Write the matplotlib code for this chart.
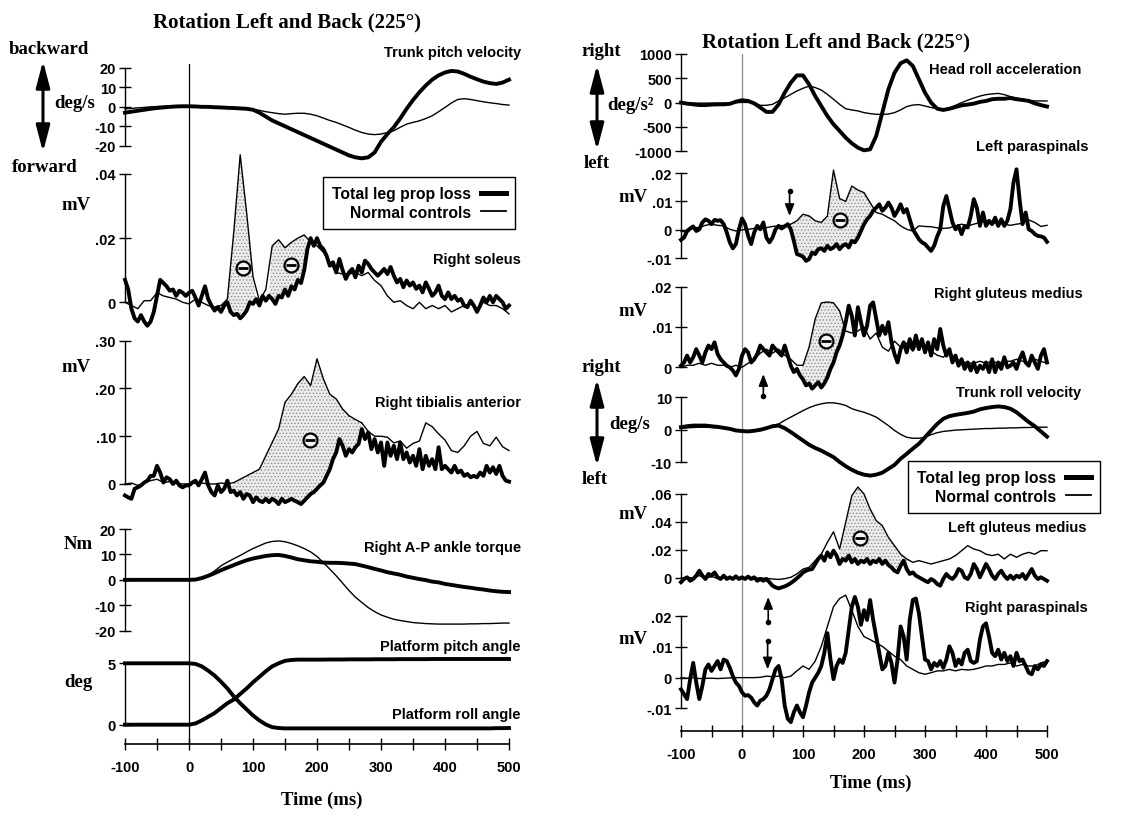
import numpy as np
import matplotlib
matplotlib.use("Agg")
import matplotlib.pyplot as plt
from matplotlib.lines import Line2D

plt.rcParams["font.family"] = ["Liberation Sans", "DejaVu Sans"]
plt.rcParams["font.weight"] = "bold"
plt.rcParams["hatch.linewidth"] = 0.6
plt.rcParams["hatch.color"] = "#8c8c8c"

W, H = 1123, 820
SERIF = ["Liberation Serif", "DejaVu Serif"]

# time bases (ms)
t10 = np.arange(-100, 501, 10)
t5 = np.arange(-100, 501, 5)

# ---------------- left column ----------------
# trunk pitch velocity (deg/s), 10 ms
pitch_vel_pt = [-3, -2.5, -2, -1.5, -1, -0.6, -0.3, 0, 0.2, 0.3,
                0.3, 0.2, 0, 0, -0.2, -0.3, -0.5, -0.6, -0.8, -1,
                -1.5, -3, -5, -7, -8.5, -10, -11.5, -13, -14.5, -16,
                -17.5, -19, -20.5, -22, -23.5, -25, -26, -26.5, -26, -23.5,
                -18, -14, -10.5, -6, -1, 3.5, 7.5, 11, 14, 16.2,
                17.7, 18.5, 18.2, 17, 15.5, 14.2, 13, 12.2, 11.8, 12.5, 14]
pitch_vel_nc = [-1, -0.8, -0.5, -0.3, 0, 0.2, 0.3, 0.4, 0.4, 0.4,
                0.3, 0.2, 0, 0, -0.2, -0.3, -0.5, -0.6, -0.8, -1,
                -1.2, -1.8, -2.5, -3, -3.5, -3.8, -3.5, -3.3, -3.3, -3.8,
                -4.6, -5.8, -7, -8, -9.3, -10.6, -12, -13.2, -14, -14.3,
                -14, -13.2, -12.3, -10.5, -8.9, -8, -7.2, -6, -4.6, -2.5,
                -0.3, 2, 3.8, 4.2, 3.8, 3.2, 2.6, 2.1, 1.7, 1.2, 0.9]

# right soleus EMG (0.001 mV units); patients 5 ms, controls 10 ms
soleus_pt = [7, 4, -2, -5, -6, -4, -6, -7.3, -6, -3, 2, 7, 6, 5, 3.6, 4, 2, 3.6, 3, 2,
             3, 3.6, 1.5, -1, 2, 5, 1, -1, -2.6, -1.5, -3, -1, 0, -3, -4, -3.6, -5, -4, -2.6, 0,
             -0.5, 1, -1, 2, 0.5, 2, 1, -0.5, 2, 1.5, 4, 2, 5, 4, 7, 6, 10, 16.6, 20, 17.6,
             20, 17.6, 16.6, 14.5, 11.4, 12.5, 9.3, 13.5, 10, 7.3, 9.3, 10.4, 7.8, 11.4, 9.3, 13, 12, 10.4, 9.3, 8.3,
             9.3, 10.4, 8.8, 11, 8.3, 6.2, 7.3, 4.7, 6.8, 5.2, 6.2, 4.2, 5.2, 3.1, 6.2, 4.2, 2, 3.1, 5.2, 2,
             1, 3.1, 1, 2, 0.5, 1, -1, -1.5, 0.5, -1, -3, -1, 1.5, 0, 2, 0, 2, 1, 0, -2, -1]
soleus_nc = [0, -1, -2, 0.5, 0.5, 3, 2, 1.5, 1, 0,
             -0.5, 1, 0, -1, -1.5, -1, 1, 22, 46, 28,
             8, 0.5, 4, 17.6, 19.5, 17, 18.7, 20, 21, 18.7,
             17.6, 15.6, 12.5, 9.3, 8.8, 8.8, 9.3, 8.3, 9.3, 6.8,
             5.2, 2, 0, 0.5, -1, -2, 0, -2, -1, -2,
             -1, -3, -2, -1, -0.5, -2, 0, -1, -1, -2, -3.6]

# right tibialis anterior EMG (0.001 mV units)
tibialis_pt = [-24, -28, -31, -10, -7, -3, 3, 7, 17, 17, 38, 24, 3, 14, 10, 0, 7, -3, -7, -3,
               -3, 3, 7, -3, 10, 24, -3, -17, -24, -3, -17, -10, 7, -17, -14, -24, -17, -31, -21, -24,
               -38, -28, -35, -38, -31, -38, -31, -35, -42, -31, -38, -35, -31, -35, -38, -42, -35, -28, -21, -17,
               -10, -3, 3, 17, 31, 52, 66, 94, 80, 59, 73, 66, 77, 84, 115, 94, 108, 73, 94, 66,
               87, 38, 87, 59, 80, 52, 87, 52, 66, 45, 59, 38, 73, 31, 59, 38, 52, 31, 77, 31,
               38, 31, 24, 38, 24, 28, 17, 21, 14, 17, 14, 24, 17, 38, 24, 35, 21, 38, 17, 7, 5]
tibialis_nc = [0, 2, -3, 3, 7, 10, 3, 5, 2, 0,
               0, 2, 2, 0, 0, 2, 0, 3, 10, 17,
               24, 31, 59, 87, 115, 171, 188, 210, 225, 206,
               262, 220, 188, 178, 157, 143, 135, 128, 110, 100,
               100, 98, 86, 90, 75, 85, 90, 128, 120, 105,
               92, 70, 66, 80, 100, 110, 85, 80, 98, 78, 70]

# right A-P ankle torque (Nm)
torque_pt = [0, 0, 0, 0, 0, 0, 0, 0, 0, 0,
             0, 0.1, 0.7, 1.6, 2.6, 3.8, 4.8, 5.8, 6.8, 7.7,
             8.4, 8.9, 9.4, 9.7, 9.8, 9.4, 8.8, 8.1, 7.7, 7.3,
             7.1, 6.8, 6.7, 6.7, 6.6, 6.4, 6.2, 5.6, 5, 4.3,
             3.7, 3, 2.5, 2, 1.3, 0.8, 0.3, -0.1, -0.7, -1,
             -1.6, -2, -2.4, -2.8, -3.1, -3.5, -3.8, -4.2, -4.5, -4.7, -4.8]
torque_nc = [0, 0, 0, 0, 0, 0, 0, 0, 0, 0,
             0, 0.1, 0.6, 1.8, 3.5, 5.5, 7, 8.3, 9.6, 11,
             12.3, 13.4, 14.5, 15.1, 15.3, 15, 14.3, 13.4, 12.3, 11,
             9.2, 6.8, 4.2, 1.6, -1.3, -4.2, -6.8, -8.9, -10.9, -12.5,
             -13.8, -14.7, -15.5, -16, -16.4, -16.8, -17, -17.2, -17.3, -17.4,
             -17.4, -17.4, -17.4, -17.4, -17.3, -17.3, -17.2, -17.2, -17.1, -17, -17]

# platform angles (deg)
platform_pitch = [0, 0, 0, 0, 0, 0, 0, 0, 0, 0,
                  0, 0.1, 0.35, 0.65, 0.95, 1.35, 1.75, 2.05, 2.5, 2.95,
                  3.45, 3.9, 4.35, 4.75, 5.0, 5.2, 5.27, 5.3, 5.3, 5.3,
                  5.3, 5.3, 5.31, 5.31, 5.31, 5.32, 5.32, 5.32, 5.32, 5.33,
                  5.33, 5.33, 5.33, 5.34, 5.34, 5.34, 5.34, 5.34, 5.35, 5.35,
                  5.35, 5.35, 5.35, 5.35, 5.35, 5.35, 5.35, 5.35, 5.35, 5.35, 5.35]
platform_roll = [5, 5, 5, 5, 5, 5, 5, 5, 5, 5,
                 5, 4.95, 4.75, 4.4, 4.0, 3.5, 2.95, 2.3, 1.75, 1.25,
                 0.75, 0.35, 0.02, -0.2, -0.27, -0.3, -0.3, -0.3, -0.3, -0.3,
                 -0.3, -0.3, -0.3, -0.3, -0.3, -0.3, -0.3, -0.3, -0.3, -0.3,
                 -0.3, -0.3, -0.3, -0.3, -0.3, -0.3, -0.3, -0.3, -0.3, -0.3,
                 -0.3, -0.3, -0.3, -0.3, -0.3, -0.3, -0.3, -0.3, -0.28, -0.28, -0.27]

# ---------------- right column ----------------
# head roll acceleration (deg/s^2)
head_acc_pt = [0, -20, -35, -50, -50, -40, -35, -35, -25, 20,
               50, 35, -15, -100, -190, -190, -35, 205, 410, 560,
               560, 375, 135, -70, -275, -445, -580, -720, -835, -925,
               -980, -960, -685, -205, 275, 615, 810, 870, 755, 480,
               205, 0, -125, -150, -125, -90, -55, -40, -20, 15,
               35, 70, 80, 80, 95, 70, 55, 35, -15, -50, -80]
head_acc_nc = [-5, -10, -10, -10, -10, -10, -10, -10, -5, 0,
               5, 5, 0, -55, -55, -35, 35, 100, 170, 240,
               295, 340, 310, 260, 170, 70, -35, -125, -150, -170,
               -205, -225, -240, -240, -235, -205, -150, -80, -50, -40,
               -70, -100, -125, -140, -110, -55, 0, 50, 95, 135,
               165, 180, 190, 165, 125, 95, 70, 50, 35, 35, 35]

# left paraspinals EMG (0.001 mV units)
lpara_pt = [-3.5, -2.7, -0.4, 0.5, 1.2, -0.4, 0.2, 2.6, 3.7, 3.2, 2, 3.5, 3.2, 3.4, 2, -0.9, -4.4, -6.5, -5, 0.2,
            4, 2, -2.1, -5, -0.9, 1.4, 0.2, 2.6, -2.7, -4.4, -2.7, 0.2, 1.4, 0.5, 1.2, 2, 0.2, -3.9, -8.5, -8.9,
            -9.4, -10.9, -10.3, -8, -8.5, -6.8, -6.5, -7.4, -5.6, -6.8, -6.2, -5, -6.8, -5.6, -5, -6.2, -3.9, -4.4, -2.7, -0.4,
            2, 3.7, 4.9, 6.7, 7.8, 9, 6.7, 7.8, 9.6, 7.8, 4.9, 6.7, 9, 6.1, 7.3, 3.7, 0.2, -1.5, -3.3, -4.4,
            -5, -6.2, -7.4, -5.6, -2.3, 0.2, 8.4, 11.9, 7.3, 2.6, 0.2, 1.4, -1.5, 1.4, 0.8, 4.9, 10.8, 7.8, 1.4, 6.1,
            1.4, 3.2, 2, 4.3, 1.4, 3.7, 1.4, 3.2, 7.3, 16.6, 21.3, 10.8, 2, 6.1, 0.2, -0.4, -1.5, -2.1, -2.3, -2.7, -4.2]
lpara_nc = [-0.4, -0.9, 0.8, 0.8, 1.6, 2, 1.6, 1.4, 0.2, -0.4,
            0, 0.2, 0.5, 0.5, 0.8, 1.2, 1.4, 1.6, 2, 3.2,
            5.5, 4.9, 3.2, 2.6, 4.9, 21, 11, 10, 15.4, 14,
            13.1, 9.6, 6.1, 5.5, 4.3, 3.2, 1.4, 0.2, -0.4, 1.4,
            1.2, 1.1, 0.7, 0.5, 0.7, 1.4, 2, 1.4, 2, 2.6,
            3.2, 2.6, 2.3, 2, 1.6, 2, 2.3, 3.5, 2.6, 1.2, 1.6]

# right gluteus medius EMG (0.001 mV units)
rglut_pt = [0.4, 1.2, 2.9, 1.2, 2.5, 4.5, 2.9, 1.2, 3.7, 5.4, 4.5, 6.2, 3.3, 2, 1.2, 0.4, 0, -0.8, -2, -0.4,
            2.9, 4.5, 3.7, 1.2, 2, 3.3, 5.4, 4.5, 3.7, 2.9, 5.4, 4.5, 3.7, 2.9, 5.4, 2.9, 0.4, -1.2, -0.4, -2,
            -3, -4.5, -4, -5.3, -4.5, -3.7, -5, -4, -2.5, -0.4, 1.2, 3.7, 5.4, 7.9, 11.2, 15.3, 12.8, 7.9, 14.9, 11.2,
            7.9, 10.3, 15.3, 16.1, 12, 7.9, 10.3, 8.3, 11.2, 6.2, 3.3, 1.2, 4.5, 6.2, 3.7, 7, 4.5, 7.9, 4.5, 7,
            3.7, 6.2, 2.9, 7, 4.5, 9.5, 5.4, 2.9, 4.5, 1.2, 2.9, 0.4, 2, -0.4, 1.2, -0.8, 1.2, -1.2, 0.4, -0.4,
            1.2, -1.2, 2, -1.2, 1.2, -0.4, 2.5, 0, 0.4, 1.2, -0.4, 2, 3.7, 1.2, 0.4, 2.9, 1.2, -0.4, 2.9, 4.5, 1.2]
rglut_nc = [0, 0.5, 0.5, 1, 0.5, 1, 0.5, 0.5, 0, 0.5,
            0, 1, 2, 3.5, 4.5, 3.5, 4.5, 3, 2, 0.5,
            0.5, 5, 12, 16, 16.2, 16, 14, 9, 8.5, 9,
            10, 7, 8.5, 5, 4, 6.5, 5, 6, 4, 6.5,
            5, 4, 3, 2.5, 4, 2, 1.5, 1, 1, 1.5,
            1, 1.5, 1, 1.5, 1.5, 2, 1.5, 1, 2, 1.5, 1]

# trunk roll velocity (deg/s)
roll_vel_pt = [0.8, 1.1, 1.3, 1.3, 1.3, 1.1, 0.9, 0.6, 0.3, -0.2,
               -0.4, -0.5, -0.3, 0, 0.5, 1.1, 1.3, 0.5, -0.7, -2,
               -3.3, -4.6, -5.6, -6.4, -7.4, -8.4, -9.9, -11.2, -12.3, -13.2,
               -13.8, -14.1, -13.8, -13.2, -12, -10.8, -8.9, -7.4, -5.8, -4.3,
               -2.3, -0.2, 1.8, 3.4, 4.2, 4.6, 4.9, 5.2, 5.6, 6.3,
               6.7, 7, 7.2, 7, 6.5, 5.4, 3.9, 2.4, 1.1, -0.5, -2.1]
roll_vel_nc = [0.5, 0.6, 0.7, 0.8, 0.8, 0.7, 0.6, 0.5, 0.3, 0,
               -0.3, -0.5, -0.3, 0, 0.6, 1.3, 1.8, 2.9, 3.9, 4.9,
               5.9, 6.8, 7.5, 8, 8.3, 8.3, 8, 7.5, 6.5, 5.9,
               5.4, 4.7, 3.9, 2.6, 1.3, -0.2, -1.4, -2.3, -2.6, -2.6,
               -2.3, -1.5, -0.9, -0.5, -0.3, -0.1, 0, 0.1, 0.2, 0.3,
               0.4, 0.4, 0.5, 0.5, 0.6, 0.6, 0.7, 0.7, 0.8, 0.8, 0.8]

# left gluteus medius EMG (0.001 mV units)
lglut_pt = [-3, -0.7, 0.5, -2, -0.7, 1.7, 5.2, 1.7, -0.7, 2.9, 1.7, 4, 0.5, -0.7, 1.7, -0.7, 0.5, -0.7, 1.2, -0.7,
            0.5, -0.7, 1, -0.7, 0.5, -2, -0.7, -2, -0.7, -3, -5.5, -6.7, -7.4, -6.7, -6, -5, -3.6, -2, -0.2, 1.7,
            4, 5.2, 6, 6.4, 10, 13.6, 16, 12.4, 18.3, 14.8, 19.5, 16, 10, 13.6, 12.4, 16, 11.2, 13.6, 10, 12.4,
            11.2, 13.6, 10, 12.4, 11.2, 13.6, 10, 12.4, 9.3, 7.6, 5.2, 4, 8.8, 12.4, 6.4, 2.9, 4, 1.7, 0.5, -0.7,
            -2, -3, -0.7, -2, -4.3, -5.5, -0.7, 2.9, 0.5, -0.7, 1.7, 6.4, 5.2, 0.5, -0.7, 2.9, 10, 6.4, 0.5, 5.2,
            10, 6.4, 1.7, -0.7, 2.9, 5.2, 1.7, -0.7, 1.7, -0.7, 1.7, 0.5, 2.9, -0.7, 2.9, 6.4, 1.7, -0.7, 0.5, -0.7, -2]
lglut_nc = [-0.2, 0.5, 0, 1.7, -0.2, 1, -0.2, 0.5, 0, 0.2,
            0, 0.2, 0, 0, -0.2, -0.7, -1, -0.5, 0.5, 2.9,
            6.4, 7.6, 12.4, 17, 25.5, 33, 20.7, 39.8, 58.8, 65,
            60, 49.3, 41, 37.4, 29, 23.1, 17, 13.6, 11.2, 12.4,
            11.2, 10, 11.2, 12.4, 13.6, 16, 19.5, 23.1, 20.7, 19.5,
            17, 16, 17, 13.6, 17, 14.8, 17, 18.3, 17, 19.5, 19.5]

# right paraspinals EMG (0.001 mV units)
rpara_pt = [-3.8, -5.4, -7, -0.5, 4.8, -1.6, -7, -2.7, 2.7, 4.3, 2.2, 3.8, 5.4, 2.7, 5.9, 5.4, 3.2, 0.5, -1.6, -2.7,
            -4.8, -5.9, -5.7, -6.5, -8.1, -9.1, -7.5, -7, -5.9, -3.8, -0.5, 2.7, 3.8, -0.5, -9.1, -13.4, -14.5, -11.3, -9.1, -11.3,
            -12.9, -9.1, -4.8, -1.6, 0, 1.6, 3.8, 8.1, 14.5, 5.9, -0.5, 3.8, 5.9, 4.8, 8.1, 15.6, 23.1, 26.3, 23.1, 17.2,
            22, 18.8, 25.3, 18.8, 13.4, 8.1, 2.7, 3.8, 8.1, 4.8, -1.6, 5.9, 16.7, 13.4, 5.9, 18.8, 25.3, 25.8, 21, 13.4,
            5.9, 5.4, 2.7, 4.8, 3.8, 5.4, 3.2, 5.9, 10.2, 8.1, 3.8, 5.9, 4.3, 8.1, 9.1, 5.4, 4.8, 5.4, 12.4, 16.7,
            17.7, 13.4, 8.1, 7, 9.1, 5.9, 8.1, 5.4, 7, 3.8, 8.1, 5.4, 5.9, 3.8, 1.6, 1.1, 3.8, 2.7, 4.3, 3.8, 5.4]
rpara_nc = [0, -0.2, 0, -0.3, -0.2, -0.2, -0.3, -0.2, -0.1, 0,
            0, 0, 0, 0.1, 0.5, 0.3, 0.5, 0, 0.5, 2.2,
            3.8, 2.7, 5.4, 10.2, 16.7, 23.1, 25.8, 26.9, 22, 16.7,
            13.4, 12.4, 11.3, 10.2, 8.6, 7, 5.9, 3.8, 2.7, 1.6,
            1.1, 1.6, 2.2, 2.2, 2.7, 2.2, 2.7, 2.5, 2.7, 3.2,
            3.8, 3.8, 4.3, 4.3, 4.8, 3.8, 4.3, 3.8, 3.8, 4.8, 5.4]

LEGEND_LABELS = ["Total leg prop loss", "Normal controls"]
TIME_TICKS = [-100, 0, 100, 200, 300, 400, 500]

# ---------------- figure ----------------
fig = plt.figure(figsize=(W / 100, H / 100), dpi=100)
LEFT = (125, 509)
RIGHT = (681, 1047)
LW_PT, LW_NC = 2.8, 1.0


def panel(col, hi, y_hi, lo, y_lo, top, bot, ticks, labels):
    x0, x1 = col
    ax = fig.add_axes([x0 / W, 1 - bot / H, (x1 - x0) / W, (bot - top) / H])
    k = (hi - lo) / (y_lo - y_hi)
    ax.set_ylim(lo - (bot - y_lo) * k, hi + (y_hi - top) * k)
    ax.set_xlim(-100, 500)
    ax.patch.set_visible(False)
    for s in ("top", "right", "bottom"):
        ax.spines[s].set_visible(False)
    ax.spines["left"].set_bounds(lo, hi)
    ax.spines["left"].set_linewidth(1.0)
    ax.set_xticks([])
    ax.set_yticks(ticks)
    ax.set_yticklabels(labels, fontsize=10.5, fontweight="bold")
    ax.tick_params(axis="y", direction="inout", length=9, width=1, pad=2)
    return ax


def traces(ax, tp, yp, tn, yn):
    ax.plot(tp, yp, color="black", lw=LW_PT, clip_on=False, zorder=3,
            solid_joinstyle="round")
    ax.plot(tn, yn, color="black", lw=LW_NC, clip_on=False, zorder=4)


def shade(ax, a, b, tn, yn, tp, yp):
    tn, yn, tp, yp = map(np.asarray, (tn, yn, tp, yp))
    m1 = (tn >= a) & (tn <= b)
    m2 = (tp >= a) & (tp <= b)
    xs = np.concatenate([tn[m1], tp[m2][::-1]])
    ys = np.concatenate([yn[m1], yp[m2][::-1]])
    ax.fill(xs, ys, facecolor="#ececec", hatch=".....", edgecolor="#8c8c8c",
            linewidth=0, zorder=1, clip_on=False)


def minus(ax, t, v):
    ax.plot([t], [v], "o", ms=10, mfc="#f4f4f4", mec="black", mew=1.6,
            zorder=5, clip_on=False)
    ax.plot([t], [v], "_", ms=6.5, mew=2.0, color="black", zorder=6, clip_on=False)


def small_arrow(ax, t, tail, tip):
    ax.annotate("", xy=(t, tip), xytext=(t, tail), zorder=6,
                arrowprops=dict(arrowstyle="-|>,head_length=0.7,head_width=0.28",
                                lw=1.2, color="black", shrinkA=0, shrinkB=0,
                                mutation_scale=10))
    ax.plot([t], [tail], "o", ms=3, color="black", zorder=6, clip_on=False)


def legend_box(ax, x_px, y_px):
    h_pt = Line2D([], [], color="black", lw=LW_PT + 0.8)
    h_nc = Line2D([], [], color="black", lw=LW_NC + 0.3)
    leg = ax.legend([h_pt, h_nc], LEGEND_LABELS, loc="upper left",
                    bbox_to_anchor=(x_px / W, 1 - y_px / H),
                    bbox_transform=fig.transFigure, markerfirst=False,
                    frameon=True, fancybox=False, edgecolor="black", framealpha=1,
                    handlelength=1.6, handletextpad=0.6, borderpad=0.6,
                    labelspacing=0.2, borderaxespad=0,
                    prop={"weight": "bold", "size": 11.3})
    leg.get_frame().set_linewidth(1.0)
    leg.set_zorder(10)


def time_axis(col, y_top, y_axis, line_color):
    x0, x1 = col
    ax = fig.add_axes([x0 / W, 1 - y_axis / H, (x1 - x0) / W, (y_axis - y_top) / H])
    ax.set_xlim(-100, 500)
    ax.set_ylim(0, 1)
    ax.patch.set_visible(False)
    for s in ("top", "right", "left"):
        ax.spines[s].set_visible(False)
    ax.spines["bottom"].set_linewidth(1.2)
    ax.set_yticks([])
    ax.set_xticks(TIME_TICKS)
    ax.set_xticklabels([str(v) for v in TIME_TICKS], fontsize=10.5, fontweight="bold")
    ax.set_xticks(np.arange(-50, 501, 100), minor=True)
    ax.tick_params(axis="x", which="both", direction="inout", length=9, width=1, pad=7)
    ax.axvline(0, color=line_color, lw=0.9, zorder=0)
    return ax


time_axis(LEFT, 65, 745, "black")
time_axis(RIGHT, 55, 732, "#8a8a8a")

# left column panels
ax = panel(LEFT, 20, 69, -20, 146.7, 60, 165, [-20, -10, 0, 10, 20],
           ["-20", "-10", "0", "10", "20"])
traces(ax, t10, pitch_vel_pt, t10, pitch_vel_nc)

ax = panel(LEFT, 40, 175, 0, 303.3, 150, 335, [0, 20, 40], ["0", ".02", ".04"])
shade(ax, 60, 105, t10, soleus_nc, t5, soleus_pt)
shade(ax, 125, 185, t10, soleus_nc, t5, soleus_pt)
traces(ax, t5, soleus_pt, t10, soleus_nc)
minus(ax, 84, 10.6)
minus(ax, 160, 11.6)
legend_box(ax, 323, 178)

ax = panel(LEFT, 300, 341.7, 0, 485, 335, 505, [0, 100, 200, 300],
           ["0", ".10", ".20", ".30"])
shade(ax, 65, 275, t10, tibialis_nc, t5, tibialis_pt)
traces(ax, t5, tibialis_pt, t10, tibialis_nc)
minus(ax, 189, 92)

ax = panel(LEFT, 20, 530, -20, 631.7, 520, 640, [-20, -10, 0, 10, 20],
           ["-20", "-10", "0", "10", "20"])
traces(ax, t10, torque_pt, t10, torque_nc)

ax = panel(LEFT, 5, 664.3, 0, 725.7, 650, 740, [0, 5], ["0", "5"])
ax.plot(t10, platform_pitch, color="black", lw=LW_PT, clip_on=False)
ax.plot(t10, platform_roll, color="black", lw=LW_PT, clip_on=False)

# right column panels
ax = panel(RIGHT, 1000, 55, -1000, 152.3, 45, 160, [-1000, -500, 0, 500, 1000],
           ["-1000", "-500", "0", "500", "1000"])
traces(ax, t10, head_acc_pt, t10, head_acc_nc)

ax = panel(RIGHT, 20, 174, -10, 259.3, 165, 265, [-10, 0, 10, 20],
           ["-.01", "0", ".01", ".02"])
shade(ax, 80, 215, t10, lpara_nc, t5, lpara_pt)
traces(ax, t5, lpara_pt, t10, lpara_nc)
minus(ax, 160, 3.4)
small_arrow(ax, 78, 13.7, 4.9)

ax = panel(RIGHT, 20, 287.7, 0, 368.3, 280, 395, [0, 10, 20], ["0", ".01", ".02"])
shade(ax, 95, 172, t10, rglut_nc, t5, rglut_pt)
traces(ax, t5, rglut_pt, t10, rglut_nc)
minus(ax, 137, 6.6)
small_arrow(ax, 35, -7.1, -1.7)

ax = panel(RIGHT, 10, 398.3, -10, 463.3, 395, 470, [-10, 0, 10], ["-10", "0", "10"])
traces(ax, t10, roll_vel_pt, t10, roll_vel_nc)
legend_box(ax, 908, 462)

ax = panel(RIGHT, 60, 495, 0, 579, 485, 600, [0, 20, 40, 60], ["0", ".02", ".04", ".06"])
shade(ax, 160, 275, t10, lglut_nc, t5, lglut_pt)
traces(ax, t5, lglut_pt, t10, lglut_nc)
minus(ax, 193, 28.3)
small_arrow(ax, 43, -31.4, -13.6)

ax = panel(RIGHT, 20, 617.3, -10, 709.3, 605, 725, [-10, 0, 10, 20],
           ["-.01", "0", ".01", ".02"])
traces(ax, t5, rpara_pt, t10, rpara_nc)
small_arrow(ax, 42, 11.8, 2.7)

# overlay for labels (pixel coords, origin top-left)
ov = fig.add_axes([0, 0, 1, 1])
ov.set_xlim(0, W)
ov.set_ylim(H, 0)
ov.axis("off")


def serif(x, y, s, size=13.5):
    ov.text(x, y, s, family=SERIF, fontweight="bold", fontsize=size,
            ha="center", va="center")


def label(x, y, s):
    ov.text(x, y, s, fontweight="bold", fontsize=10.5, ha="right", va="center")


def big_arrow(x, y0, y1):
    ov.annotate("", xy=(x, y0), xytext=(x, y1),
                arrowprops=dict(arrowstyle="<|-|>,head_length=1.6,head_width=0.42",
                                lw=2.2, color="black", shrinkA=0, shrinkB=0,
                                mutation_scale=10))


serif(287, 22, "Rotation Left and Back (225°)", 15)
serif(49, 50, "backward")
serif(45, 167, "forward")
serif(75, 103, "deg/s")
big_arrow(43, 62, 153)
serif(76, 205, "mV")
serif(76, 368, "mV")
serif(78, 545, "Nm")
serif(78, 683, "deg")
serif(322, 800, "Time (ms)")
label(521, 53, "Trunk pitch velocity")
label(521, 260, "Right soleus")
label(521, 403, "Right tibialis anterior")
label(521, 548, "Right A-P ankle torque")
label(521, 647, "Platform pitch angle")
label(521, 715, "Platform roll angle")

serif(836, 42, "Rotation Left and Back (225°)", 15)
serif(601, 51, "right")
serif(631, 105, "deg/s²")
serif(597, 164, "left")
big_arrow(597, 66, 151)
serif(633, 197, "mV")
serif(633, 312, "mV")
serif(601, 368, "right")
big_arrow(597, 380, 467)
serif(630, 425, "deg/s")
serif(595, 480, "left")
serif(633, 515, "mV")
serif(633, 640, "mV")
serif(871, 783, "Time (ms)")
label(1081, 70, "Head roll acceleration")
label(1088, 147, "Left paraspinals")
label(1083, 294, "Right gluteus medius")
label(1081, 393, "Trunk roll velocity")
label(1087, 528, "Left gluteus medius")
label(1088, 608, "Right paraspinals")

fig.savefig("out.png", dpi=100)
